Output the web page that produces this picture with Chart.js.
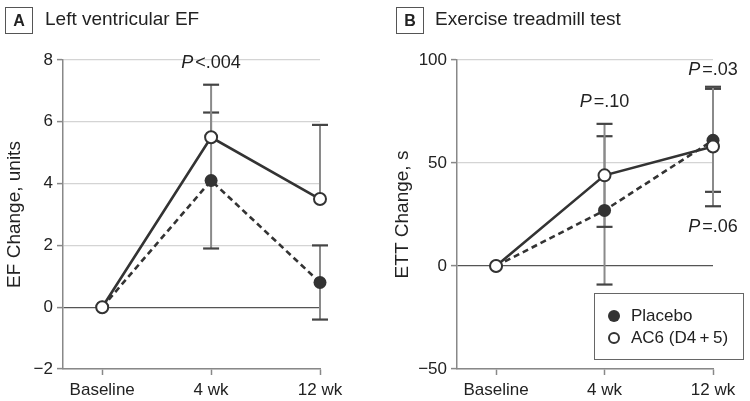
<!DOCTYPE html>
<html>
<head>
<meta charset="utf-8">
<script src="https://cdn.jsdelivr.net/npm/chart.js@4"></script>
<style>
  body { margin: 0; background: #fff; font-family: "Liberation Sans", Arial, sans-serif; color: #222; }
  #wrap { position: relative; width: 750px; height: 401px; overflow: hidden; }
  .cv { position: absolute; top: 0; width: 375px; height: 401px; }
  .tag { position: absolute; top: 7px; width: 26px; height: 25px; border: 1.5px solid #555; font-weight: bold; font-size: 16px; line-height: 25px; text-align: center; }
  .ttl { position: absolute; top: 8px; font-size: 19px; }
  #legend { position: absolute; left: 594px; top: 293px; width: 148px; height: 65px; border: 1.2px solid #666; font-size: 17px; }
  .item { position: absolute; left: 36px; height: 20px; line-height: 20px; }
  .dot { position: absolute; left: -23px; top: 4px; width: 12px; height: 12px; border-radius: 50%; box-sizing: border-box; }
</style>
</head>
<body>
<div id="wrap">
  <div class="cv" style="left:0"><canvas id="chartA"></canvas></div>
  <div class="cv" style="left:375px"><canvas id="chartB"></canvas></div>
  <div class="tag" style="left:5px">A</div>
  <div class="ttl" style="left:45px">Left ventricular EF</div>
  <div class="tag" style="left:396px">B</div>
  <div class="ttl" style="left:435px">Exercise treadmill test</div>
  <div id="legend">
    <div class="item" style="top:12px"><span class="dot" style="background:#333"></span>Placebo</div>
    <div class="item" style="top:34px"><span class="dot" style="background:#fff;border:2px solid #333"></span>AC6 (D4&#8201;+&#8201;5)</div>
  </div>
</div>
<script>
const categories = ['Baseline', '4 wk', '12 wk'];

// Panel A: left ventricular EF change, units
const efPlacebo = [0, 4.1, 0.8];
const efAC6 = [0, 5.5, 3.5];
const efPlaceboUpper = [null, 6.3, 2.0];
const efPlaceboLower = [null, 1.9, -0.4];
const efAC6Upper = [null, 7.2, 5.9];
const efAC6Lower = [null, null, null];
const efTicks = [-2, 0, 2, 4, 6, 8];

// Panel B: exercise treadmill test change, s
const ettPlacebo = [0, 27, 61];
const ettAC6 = [0, 44, 58];
const ettPlaceboUpper = [null, 63, 86];
const ettPlaceboLower = [null, -9, 36];
const ettAC6Upper = [null, 69, 87];
const ettAC6Lower = [null, 19, 29];
const ettTicks = [-50, 0, 50, 100];

const efNotes = [{ x: 1, y: 7.9, rest: '<.004' }];
const ettNotes = [
  { x: 1, y: 79.5, rest: '=.10' },
  { x: 2, y: 95, rest: '=.03' },
  { x: 2, y: 19, rest: '=.06' }
];

const FONT = '"Liberation Sans", Arial, sans-serif';

const errorBars = {
  id: 'errorBars',
  beforeDatasetsDraw(chart, args, opts) {
    const ctx = chart.ctx;
    const xs = chart.scales.x, ys = chart.scales.y;
    ctx.save();
    opts.bars.forEach(b => {
      b.upper.forEach((u, i) => {
        const l = b.lower[i];
        const mid = b.mid[i];
        const x = xs.getPixelForValue(i);
        const top = u == null ? mid : u;
        const bot = l == null ? mid : l;
        if (u == null && l == null) return;
        ctx.strokeStyle = opts.lineColor;
        ctx.lineWidth = opts.lineWidth;
        ctx.beginPath();
        ctx.moveTo(x, ys.getPixelForValue(top));
        ctx.lineTo(x, ys.getPixelForValue(bot));
        ctx.stroke();
        ctx.strokeStyle = '#444';
        ctx.lineWidth = 2.2;
        [u, l].forEach(v => {
          if (v == null) return;
          const y = ys.getPixelForValue(v);
          ctx.beginPath();
          ctx.moveTo(x - 8, y);
          ctx.lineTo(x + 8, y);
          ctx.stroke();
        });
      });
    });
    ctx.restore();
  },
  afterDraw(chart, args, opts) {
    const ctx = chart.ctx;
    const xs = chart.scales.x, ys = chart.scales.y;
    ctx.save();
    ctx.fillStyle = '#222';
    ctx.textBaseline = 'middle';
    opts.notes.forEach(n => {
      const x = xs.getPixelForValue(n.x);
      const y = ys.getPixelForValue(n.y);
      ctx.font = 'italic 18px ' + FONT;
      const wp = ctx.measureText('P').width + 2;
      ctx.font = '18px ' + FONT;
      const wr = ctx.measureText(n.rest).width;
      const x0 = x - (wp + wr) / 2;
      ctx.textAlign = 'left';
      ctx.font = 'italic 18px ' + FONT;
      ctx.fillText('P', x0, y);
      ctx.font = '18px ' + FONT;
      ctx.fillText(n.rest, x0 + wp, y);
    });
    ctx.restore();
  }
};

function makeChart(id, placebo, ac6, bars, notes, ticks, yTitle, yWidth, padLeft, padRight) {
  const ac6Pts = ac6.map((v, i) => ({ x: i, y: v }));
  const plPts = placebo.map((v, i) => ({ x: i, y: v }));
  return new Chart(document.getElementById(id), {
    type: 'line',
    data: {
      datasets: [
        {
          label: 'AC6 (D4 + 5)',
          data: ac6Pts,
          borderColor: '#333',
          borderWidth: 2.6,
          pointRadius: 6,
          pointBorderWidth: 2,
          pointBackgroundColor: '#fff',
          pointBorderColor: '#333',
          tension: 0,
          clip: false
        },
        {
          label: 'Placebo',
          data: plPts,
          borderColor: '#333',
          borderWidth: 2.6,
          borderDash: [6, 4],
          pointRadius: 6.5,
          pointBorderWidth: 0,
          pointBackgroundColor: '#333',
          pointBorderColor: '#333',
          tension: 0,
          clip: false
        }
      ]
    },
    options: {
      responsive: true,
      maintainAspectRatio: false,
      animation: false,
      events: [],
      layout: { padding: { left: padLeft, top: 60, right: padRight, bottom: 0 } },
      plugins: {
        legend: { display: false },
        tooltip: { enabled: false },
        errorBars: { bars: bars, notes: notes, lineColor: '#8a8a8a', lineWidth: 2 }
      },
      scales: {
        x: {
          type: 'linear',
          min: -0.36,
          max: 2,
          afterBuildTicks: s => { s.ticks = categories.map((c, i) => ({ value: i })); },
          afterFit: s => { s.height = 32; },
          border: { color: '#888', width: 1.5 },
          grid: { drawOnChartArea: false, drawTicks: true, tickLength: 6, tickColor: '#888', tickWidth: 1.5 },
          ticks: {
            callback: v => categories[v],
            color: '#222',
            font: { family: FONT, size: 17 },
            padding: 5,
            maxRotation: 0
          }
        },
        y: {
          min: ticks[0],
          max: ticks[ticks.length - 1],
          afterBuildTicks: s => { s.ticks = ticks.map(v => ({ value: v })); },
          afterFit: s => { s.width = yWidth; },
          border: { color: '#888', width: 1.5 },
          grid: {
            color: c => c.tick && c.tick.value === 0 ? '#555' : '#d4d4d4',
            lineWidth: 1.2,
            drawTicks: true,
            tickLength: 6,
            tickColor: '#888',
            tickWidth: 1.5
          },
          ticks: {
            callback: v => v < 0 ? '\u2212' + Math.abs(v) : v,
            color: '#222',
            font: { family: FONT, size: 17 },
            padding: 4
          },
          title: {
            display: true,
            text: yTitle,
            color: '#222',
            font: { family: FONT, size: 19 },
            padding: { top: 3, bottom: 0 }
          }
        }
      }
    },
    plugins: [errorBars]
  });
}

makeChart('chartA', efPlacebo, efAC6,
  [
    { mid: efPlacebo, upper: efPlaceboUpper, lower: efPlaceboLower },
    { mid: efAC6, upper: efAC6Upper, lower: efAC6Lower }
  ],
  efNotes, efTicks, 'EF Change, units', 63, 0, 55);

makeChart('chartB', ettPlacebo, ettAC6,
  [
    { mid: ettPlacebo, upper: ettPlaceboUpper, lower: ettPlaceboLower },
    { mid: ettAC6, upper: ettAC6Upper, lower: ettAC6Lower }
  ],
  ettNotes, ettTicks, 'ETT Change, s', 69, 13, 37);
</script>
</body>
</html>
